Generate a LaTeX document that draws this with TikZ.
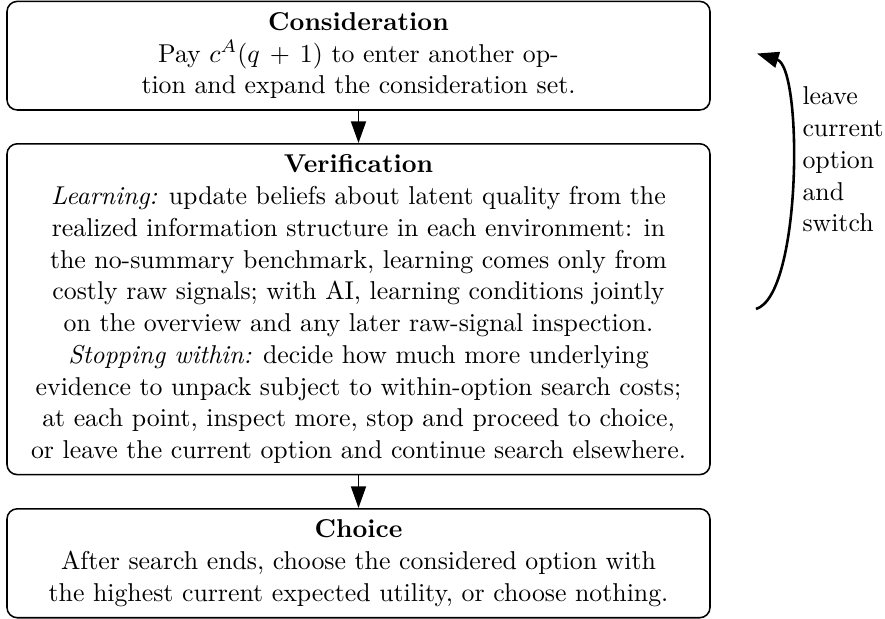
\documentclass[tikz,border=0pt]{standalone}
\usetikzlibrary{arrows.meta}
\begin{document}
\begin{tikzpicture}[x=0.3876pt, y=-0.3876pt,
  every node/.style={font=\fontsize{10pt}{12.3pt}\selectfont},
  stagebox/.style={draw, line width=0.6pt, rounded corners=4pt, align=center,
    minimum width=272.5pt, inner xsep=3.33pt, inner ysep=4.3pt, anchor=north},
  flowarrow/.style={line width=0.75pt, -{Triangle[length=8.4pt,width=5.8pt]}},
  looparrow/.style={line width=1pt, -{Triangle[length=8.4pt,width=6.2pt]}},
  sidelabel/.style={align=left, inner sep=0pt, anchor=north west}]
\useasboundingbox (0,0) rectangle (885,619);
\node[stagebox] (cons) at (358.5,0.6) {\textbf{Consideration}\\
  Pay $c^{A}(q\,+\,1)$ to enter another op-\\
  tion and expand the consideration set.};
\node[stagebox] (verif) at (358.5,143) {\textbf{Verification}\\
  \emph{Learning:} update beliefs about latent quality from the\\
  realized information structure in each environment: in\\
  the no-summary benchmark, learning comes only from\\
  costly raw signals; with AI, learning conditions jointly\\
  on the overview and any later raw-signal inspection.\\
  \emph{Stopping within:} decide how much more underlying\\
  evidence to unpack subject to within-option search costs;\\
  at each point, inspect more, stop and proceed to choice,\\
  or leave the current option and continue search elsewhere.};
\node[stagebox] (choice) at (358.5,508) {\textbf{Choice}\\
  After search ends, choose the considered option with\\
  the highest current expected utility, or choose nothing.};
\draw[flowarrow] (cons.south) -- (verif.north);
\draw[flowarrow] (verif.south) -- (choice.north);
\coordinate (loopS) at (756,309);
\coordinate (loopE) at (757,53.5);
\draw[looparrow] (loopS) .. controls +(46,-14) and +(46,14) .. (loopE);
\node[sidelabel] (lbl) at (802,86.5) {leave\\current\\option\\and\\switch};
\end{tikzpicture}
\end{document}
